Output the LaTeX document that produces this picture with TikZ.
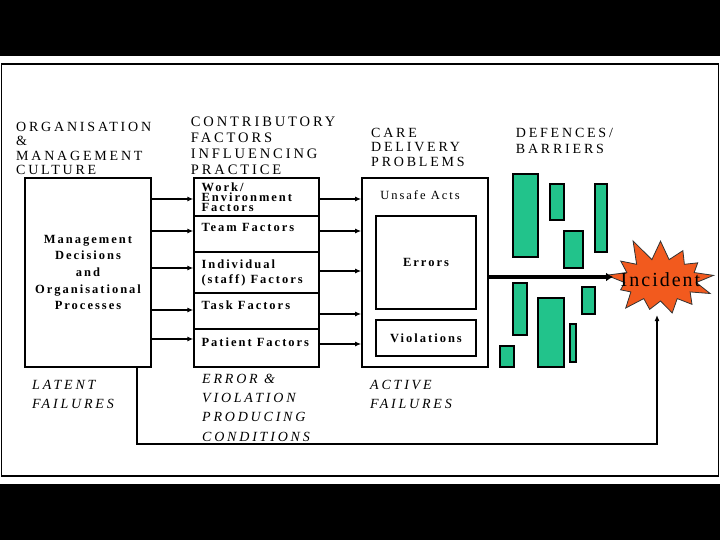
\documentclass[tikz,border=0pt]{standalone}
\usepackage{fontspec}
\setmainfont{Liberation Serif}
\newfontfamily\headFont[LetterSpace=20]{Liberation Serif}
\newfontfamily\boxFont[LetterSpace=16]{Liberation Serif}
\newfontfamily\burstFont[LetterSpace=10]{Liberation Serif}
\usetikzlibrary{positioning, arrows.meta, calc, shapes.symbols}
\definecolor{barGreen}{HTML}{22C38B}
\definecolor{burstOrange}{HTML}{F25A1E}

\begin{document}
\begin{tikzpicture}[
    x=1pt, y=-1pt,
    >={Latex[length=6pt, width=5pt]},
    box/.style={draw, line width=1.6pt, inner sep=0pt},
    cell/.style={draw, line width=1.4pt, minimum width=125pt, inner sep=0pt},
    heading/.style={anchor=base west, align=left, inner sep=0pt,
        font=\headFont\fontsize{14}{14.7}\selectfont},
    footNote/.style={anchor=base west, align=left, inner sep=0pt,
        font=\headFont\itshape\fontsize{14}{19.2}\selectfont},
    cellText/.style={anchor=base west, align=left, inner sep=0pt,
        font=\boxFont\bfseries\fontsize{12.5}{15.3}\selectfont},
    arr/.style={->, line width=1.3pt},
    bar/.style={draw, line width=1.2pt, fill=barGreen}
]

% page and frame
\fill[black] (0,0) rectangle (720,56);
\fill[black] (0,484) rectangle (720,540);
\draw[line width=1.5pt] (1.5,64) rectangle (718.5,476);

% headings (placed by the baseline of their last line)
\node[heading, font=\headFont\fontsize{14}{14.5}\selectfont] (orgHead) at (16,175) {ORGANISATION\\\&\\MANAGEMENT\\CULTURE};
\node[heading, font=\headFont\fontsize{14.5}{16}\selectfont] (contribHead) at (190.7,174.7) {CONTRIBUTORY\\FACTORS\\INFLUENCING\\PRACTICE};
\node[heading] (careHead) at (371,166.7) {CARE\\DELIVERY\\PROBLEMS};
\node[heading, font=\headFont\fontsize{14}{16.7}\selectfont] (defHead) at (515.7,154) {DEFENCES/\\BARRIERS};

% organisation box
\node[box, minimum width=126pt, minimum height=189pt, align=center,
    font=\boxFont\bfseries\fontsize{12.5}{16.7}\selectfont] (mgmt) at (88,272.5)
    {Management\\Decisions\\and\\Organisational\\Processes};

% contributory factors
\node[cell, minimum height=38pt] (work) at (256.5,197) {};
\node[cell, minimum height=36pt] (team) at (256.5,234) {};
\node[cell, minimum height=41pt] (indiv) at (256.5,272.5) {};
\node[cell, minimum height=36pt] (task) at (256.5,311) {};
\node[cell, minimum height=38pt] (patient) at (256.5,348) {};

\node[cellText, font=\boxFont\bfseries\fontsize{12.5}{10}\selectfont] (workText) at ([shift={(8,34)}]work.north west) {Work/\\Environment\\Factors};
\node[cellText] (teamText) at ([shift={(8,16)}]team.north west) {Team Factors};
\node[cellText] (indivText) at ([shift={(8,32.3)}]indiv.north west) {Individual\\(staff) Factors};
\node[cellText] (taskText) at ([shift={(8,17)}]task.north west) {Task Factors};
\node[cellText] (patientText) at ([shift={(8,17.7)}]patient.north west) {Patient Factors};

% care delivery problems
\node[box, minimum width=126pt, minimum height=189pt] (care) at (425,272.5) {};
\node[cellText, anchor=base, font=\boxFont\fontsize{12.5}{15}\selectfont] (unsafe) at (420,200) {Unsafe Acts};
\node[box, minimum width=100pt, minimum height=93pt, font=\boxFont\bfseries\fontsize{12.5}{15}\selectfont] (errors) at (426,262.5) {Errors};
\node[box, minimum width=100pt, minimum height=36pt, font=\boxFont\bfseries\fontsize{12.5}{15}\selectfont] (viol) at (426,338) {Violations};

% arrows into and out of the factors
\foreach \c/\a/\b in {work/-2/-2, team/3/3, indiv/4.5/1.5, task/1/-3, patient/9/4} {
    \draw[arr] ([yshift=\a pt]mgmt.east |- \c.west) -- ([yshift=\a pt]\c.west);
    \draw[arr] ([yshift=\b pt]\c.east) -- ([yshift=\b pt]care.west |- \c.east);
}

% defences
\foreach \xa/\ya/\xb/\yb in {513/174/538/257, 550/184/564/220, 595/184/607/252,
    564/231/583/268, 513/283/527/335, 538/298/564/367, 582/287/595/314,
    570/324/576/362, 500/346/514/367}
    \draw[bar] (\xa,\ya) rectangle (\xb,\yb);

% incident
\node[starburst, starburst points=13, starburst point height=24pt, random starburst=11,
    minimum width=120pt, minimum height=90pt, inner sep=0pt,
    fill=burstOrange, draw=black!80, line width=0.8pt,
    font=\burstFont\fontsize{20}{22}\selectfont] (incident) at (660.5,280)
    {\makebox[0pt]{Incident}};

\coordinate (hit) at (613,277);
\draw[->, line width=3.3pt, >={Latex[length=7pt, width=9pt]}] ([yshift=-4.5pt]care.east) -- (hit);

\coordinate (fbTip) at (657,315);
\coordinate (fbBase) at (137,444);
\draw[arr] (mgmt.south -| fbBase) |- (fbTip |- fbBase) -- (fbTip);

% failures
\node[footNote] (latent) at (32,408.3) {LATENT\\FAILURES};
\node[footNote] (evpc) at (202,441) {ERROR \&\\VIOLATION\\PRODUCING\\CONDITIONS};
\node[footNote] (active) at (370,408.3) {ACTIVE\\FAILURES};

\end{tikzpicture}
\end{document}
